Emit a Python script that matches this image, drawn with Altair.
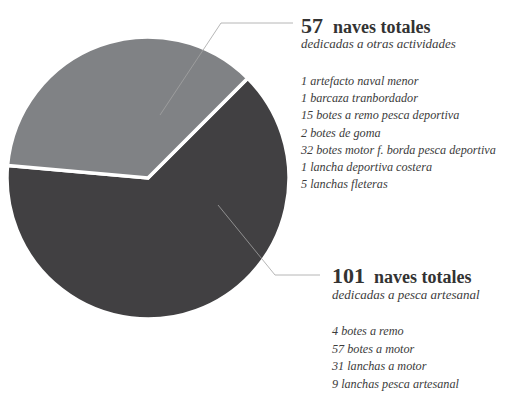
import math
import altair as alt
import pandas as pd

# --- pie data ---
segmento = ["pesca artesanal", "otras actividades"]
naves = [101, 57]
orden = [1, 2]
colores = ["#414042", "#808285"]

# pie centre (page coordinates through the shared scales)
centro_x = [148, 148]
centro_y = [178, 178]

# --- leader lines ---
guia_id = ["a", "a", "a", "b", "b", "b"]
guia_x = [160, 221, 293, 218, 275, 320]
guia_y = [115, 23, 23, 205, 275, 275]
guia_orden = [0, 1, 2, 0, 1, 2]

# --- annotation texts ---
cifra = ["57", "101"]
cifra_x = [301, 332]
cifra_y = [32.5, 282.5]
titulo = ["naves totales", "naves totales"]
titulo_x = [333, 374]
subtitulo = ["dedicadas a otras actividades", "dedicadas a pesca artesanal"]
subtitulo_y = [48, 298.5]

lista_otras = [
    "1 artefacto naval menor",
    "1 barcaza tranbordador",
    "15 botes a remo pesca deportiva",
    "2 botes de goma",
    "32 botes motor f. borda pesca deportiva",
    "1 lancha deportiva costera",
    "5 lanchas fleteras",
]
lista_otras_y = [85, 102.2, 119.4, 136.6, 153.8, 171, 188]
lista_pesca = [
    "4 botes a remo",
    "57 botes a motor",
    "31 lanchas a motor",
    "9 lanchas pesca artesanal",
]
lista_pesca_y = [335, 352.7, 370.3, 388]

W, H = 491, 386
xs = alt.Scale(domain=[8, 8 + W], nice=False, zero=False)
ys = alt.Scale(domain=[8 + H, 8], nice=False, zero=False)

pie_df = pd.DataFrame({"segmento": segmento, "naves": naves, "orden": orden,
                       "cx": centro_x, "cy": centro_y})
guia_df = pd.DataFrame({"id": guia_id, "x": guia_x, "y": guia_y, "o": guia_orden})
cifra_df = pd.DataFrame({"t": cifra, "x": cifra_x, "y": cifra_y})
titulo_df = pd.DataFrame({"t": titulo, "x": titulo_x, "y": cifra_y})
sub_df = pd.DataFrame({"t": subtitulo, "x": cifra_x, "y": subtitulo_y})
lista_df = pd.DataFrame({
    "t": lista_otras + lista_pesca,
    "x": [cifra_x[0]] * len(lista_otras) + [cifra_x[1]] * len(lista_pesca),
    "y": lista_otras_y + lista_pesca_y,
})

start = math.pi / 4
pie = alt.Chart(pie_df).mark_arc(radius=141, stroke="white", strokeWidth=3.5).encode(
    theta=alt.Theta("naves:Q", stack=True,
                    scale=alt.Scale(range=[start, start + 2 * math.pi])),
    order=alt.Order("orden:Q"),
    color=alt.Color("segmento:N", scale=alt.Scale(domain=segmento, range=colores), legend=None),
    x=alt.X("cx:Q", scale=xs, axis=None),
    y=alt.Y("cy:Q", scale=ys, axis=None),
)

guias = alt.Chart(guia_df).mark_line(color="#a3a3a3", strokeWidth=0.8).encode(
    x=alt.X("x:Q", scale=xs, axis=None),
    y=alt.Y("y:Q", scale=ys, axis=None),
    detail="id:N",
    order="o:Q",
)

def texto(df, **kw):
    return alt.Chart(df).mark_text(align="left", baseline="alphabetic",
                                   font="Liberation Serif", **kw).encode(
        x=alt.X("x:Q", scale=xs, axis=None),
        y=alt.Y("y:Q", scale=ys, axis=None),
        text="t:N",
    )

capa_cifra = texto(cifra_df, fontSize=22, fontWeight="bold", color="#333333")
capa_titulo = texto(titulo_df, fontSize=18, fontWeight="bold", color="#333333")
capa_sub = texto(sub_df, fontSize=13, fontStyle="italic", color="#3c3c3c")
capa_lista = texto(lista_df, fontSize=12.2, fontStyle="italic", color="#3c3c3c")

chart = alt.layer(pie, guias, capa_cifra, capa_titulo, capa_sub, capa_lista).properties(
    width=W, height=H, padding=0, autosize=alt.AutoSizeParams(type="none"),
).configure_view(stroke=None)

chart.save("out.html", embed_options={"renderer": "svg", "actions": False})
